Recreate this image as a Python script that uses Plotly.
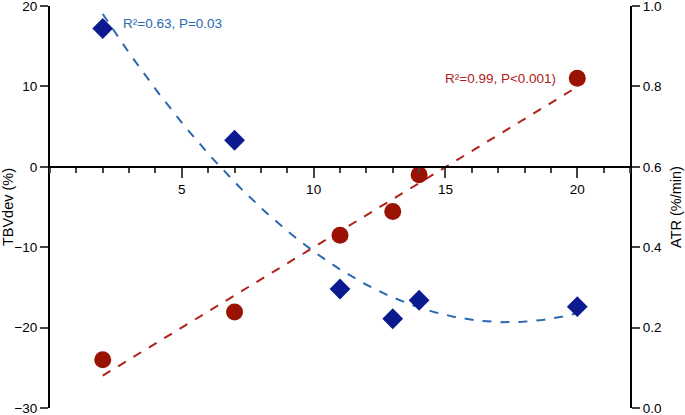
import numpy as np
import plotly.graph_objects as go

# flow values on the x axis
x_vals = [2, 7, 11, 13, 14, 20]
# TBVdev (%) - left axis, diamonds
tbv_dev = [17.2, 3.3, -15.2, -18.9, -16.6, -17.4]
# ATR (%/min) - right axis, circles
atr = [0.12, 0.239, 0.43, 0.489, 0.58, 0.82]

blue_pt = "#0c1a8f"
blue_ln = "#2a68b0"
red_pt = "#9a1204"
red_ln = "#b0221a"
font = "Liberation Sans, Arial, sans-serif"

# fitted curves
xf = np.linspace(min(x_vals), max(x_vals), 200)
tbv_fit = np.polyval(np.polyfit(x_vals, tbv_dev, 2), xf)
atr_fit = np.polyval(np.polyfit(x_vals, atr, 1), xf)

fig = go.Figure()
fig.add_trace(go.Scatter(x=xf, y=tbv_fit, mode="lines",
                         line=dict(color=blue_ln, width=2, dash="dash"), yaxis="y"))
fig.add_trace(go.Scatter(x=xf, y=atr_fit, mode="lines",
                         line=dict(color=red_ln, width=2, dash="dash"), yaxis="y2"))
fig.add_trace(go.Scatter(x=x_vals, y=tbv_dev, mode="markers",
                         marker=dict(symbol="diamond", size=16, color=blue_pt), yaxis="y"))
fig.add_trace(go.Scatter(x=x_vals, y=atr, mode="markers",
                         marker=dict(symbol="circle", size=17, color=red_pt), yaxis="y2"))

fig.add_annotation(x=2.7, y=17.8, xref="x", yref="y", text="R²=0.63, P=0.03",
                   showarrow=False, xanchor="left", font=dict(color=blue_ln, size=13.5))
fig.add_annotation(x=19.25, y=0.82, xref="x", yref="y2", text="R²=0.99, P<0.001)",
                   showarrow=False, xanchor="right", font=dict(color=red_ln, size=13.5))

fig.update_layout(
    width=685, height=415,
    margin=dict(l=50, r=55, t=6, b=7),
    paper_bgcolor="white", plot_bgcolor="white",
    showlegend=False,
    font=dict(family=font, size=13.5, color="black"),
    xaxis=dict(range=[0, 22], tickvals=[5, 10, 15, 20], ticks="outside", ticklen=10,
               tickwidth=1.5, showline=True, linecolor="black", linewidth=2,
               showgrid=False, zeroline=False, anchor="free", position=0.6,
               automargin=False,
               minor=dict(dtick=1, ticks="outside", ticklen=5, tickwidth=1.5,
                          showgrid=False)),
    yaxis=dict(range=[-30, 20], dtick=10, ticks="outside", ticklen=8, tickwidth=1.5,
               showline=True, linecolor="black", linewidth=2, showgrid=False,
               zeroline=False, automargin=False, ticklabeloverflow="allow",
               title=dict(text="TBVdev (%)", standoff=4, font=dict(size=14.5))),
    yaxis2=dict(range=[0, 1], dtick=0.2, tickformat=".1f", overlaying="y", side="right",
                ticks="outside", ticklen=8, tickwidth=1.5, showline=True,
                linecolor="black", linewidth=2, showgrid=False, zeroline=False,
                automargin=False, ticklabeloverflow="allow",
                title=dict(text="ATR (%/min)", standoff=10, font=dict(size=14.5))),
)

fig.write_html("out.html", config={"displayModeBar": False},
               post_script="document.body.style.margin='0';")
